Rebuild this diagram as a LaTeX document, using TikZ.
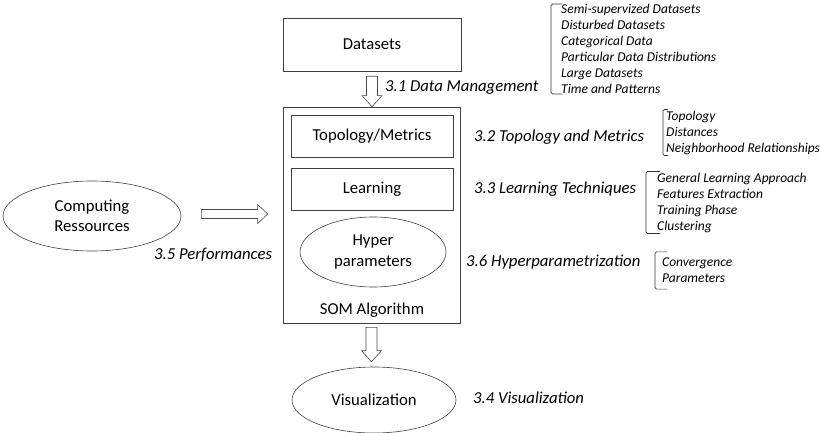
\documentclass[tikz,border=0pt]{standalone}
\usepackage{fontspec}
\setmainfont{Carlito}
\usetikzlibrary{shapes.geometric, calc}
\newcommand{\mainsize}{\fontsize{16.7}{20.5}\selectfont}
\newcommand{\listsize}{\fontsize{13.5}{16}\selectfont}
\tikzstyle{box} = [rectangle, draw=black!75, line width=0.6pt, minimum width=162pt, minimum height=42pt, font=\mainsize, inner sep=0pt]
\tikzstyle{oval} = [ellipse, draw=black!75, line width=0.6pt, align=center, font=\mainsize, inner sep=0pt]
\tikzstyle{tag} = [font=\mainsize\itshape, inner sep=0pt, anchor=west]
\tikzstyle{items} = [font=\listsize\itshape, align=left, inner sep=0pt, anchor=west]
\tikzstyle{brk} = [draw=black!80, line width=0.7pt, rounded corners=1.5pt]
\tikzstyle{downblock} = [draw=black!70, line width=0.6pt, fill=white, to path={let \p1=(\tikztostart), \p2=(\tikztotarget) in
  (\x1-5.5pt,\y1) -- (\x1+5.5pt,\y1) -- (\x1+5.5pt,\y2+11pt) -- (\x1+10pt,\y2+11pt) -- (\x1,\y2) -- (\x1-10pt,\y2+11pt) -- (\x1-5.5pt,\y2+11pt) -- cycle}]
\tikzstyle{rightblock} = [draw=black!70, line width=0.6pt, fill=white, to path={let \p1=(\tikztostart), \p2=(\tikztotarget) in
  (\x1,\y1+4.5pt) -- (\x2-10pt,\y1+4.5pt) -- (\x2-10pt,\y1+9.5pt) -- (\x2,\y1) -- (\x2-10pt,\y1-9.5pt) -- (\x2-10pt,\y1-4.5pt) -- (\x1,\y1-4.5pt) -- cycle}]

\begin{document}
\begin{tikzpicture}[x=1pt, y=-1pt]
  \useasboundingbox (0,0) rectangle (821,433);

  % main blocks
  \node (data) [box, minimum width=178pt, minimum height=53pt] at (372,44.5) {Datasets};
  \node (som) [rectangle, draw=black!75, line width=0.6pt, minimum width=177pt, minimum height=216pt, inner sep=0pt] at (371.5,215) {};
  \node (topo) [box] at (372,136) {Topology/Metrics};
  \node (learn) [box] at (372,189) {Learning};
  \node (hyper) [oval, minimum width=146pt, minimum height=70pt] at (373,252) {Hyper\\parameters};
  \node (somlab) [font=\mainsize, inner sep=0pt] at (372,310) {SOM Algorithm};
  \node (viz) [oval, minimum width=164pt, minimum height=66pt] at (374,400) {Visualization};
  \node (comp) [oval, minimum width=178pt, minimum height=70pt] at (92,216) {Computing\\Ressources};

  \draw [downblock] ($(data.south)+(0,5)$) to (som.north);
  \draw [downblock] ($(som.south)+(0,4)$) to ($(viz.north)+(0,-5)$);
  \draw [rightblock] ($(comp.east)+(20,-2)$) to ($(som.west)+(-15,0)$);

  % section labels
  \node (dmlab) [tag] at (385,88) {3.1 Data Management};
  \node (tmlab) [tag] at (474,137) {3.2 Topology and Metrics};
  \node (ltlab) [tag] at (474,189) {3.3 Learning Techniques};
  \node (hplab) [tag] at (466,262) {3.6 Hyperparametrization};
  \node (pflab) [tag] at (154,255) {3.5 Performances};
  \node (vzlab) [tag] at (473,398) {3.4 Visualization};

  % topic lists
  \node (dmlist) [items] at (561,49) {Semi-supervized Datasets\\Disturbed Datasets\\Categorical Data\\Particular Data Distributions\\Large Datasets\\Time and Patterns};
  \node (tmlist) [items] at (666,132.5) {Topology\\Distances\\Neighborhood Relationships};
  \node (ltlist) [items] at (657,202.5) {General Learning Approach\\Features Extraction\\Training Phase\\Clustering};
  \node (hplist) [items] at (662,270.5) {Convergence\\Parameters};

  \draw [brk] ($(dmlist.north west)+(1,0)$) -- ($(dmlist.north west)+(-10,0)$) -- ($(dmlist.south west)+(-10,0)$) -- ($(dmlist.south west)+(1,0)$);
  \draw [brk] ($(tmlist.north west)+(2,-1)$) -- ($(tmlist.north west)+(-3,-1)$) -- ($(tmlist.south west)+(-3,1)$) -- ($(tmlist.south west)+(2,1)$);
  \draw [brk] ($(ltlist.north west)+(3,-1)$) -- ($(ltlist.north west)+(-11,-1)$) -- ($(ltlist.south west)+(-11,1)$) -- ($(ltlist.south west)+(3,1)$);
  \draw [brk] ($(hplist.north west)+(5,-6)$) -- ($(hplist.north west)+(-7,-6)$) -- ($(hplist.south west)+(-7,6)$) -- ($(hplist.south west)+(5,6)$);
\end{tikzpicture}
\end{document}
